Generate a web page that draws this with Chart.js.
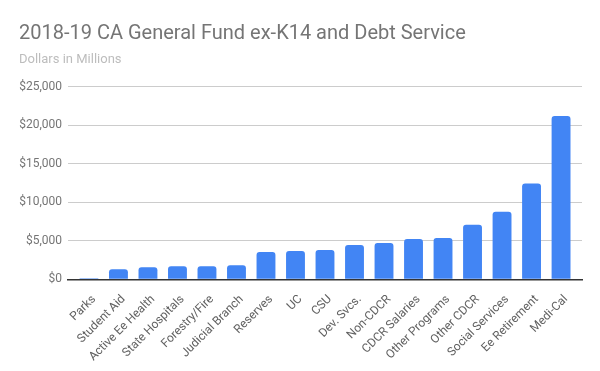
<!DOCTYPE html>
<html>
<head>
<meta charset="utf-8">
<script src="https://cdn.jsdelivr.net/npm/chart.js@4/dist/chart.umd.min.js"></script>
<style>
  html, body { margin: 0; padding: 0; background: #fff; }
  #wrap { width: 600px; height: 371px; }
</style>
</head>
<body>
<div id="wrap"><canvas id="chart"></canvas></div>
<script>
const categories = ["Parks", "Student Aid", "Active Ee Health", "State Hospitals", "Forestry/Fire",
  "Judicial Branch", "Reserves", "UC", "CSU", "Dev. Svcs.", "Non-CDCR", "CDCR Salaries",
  "Other Programs", "Other CDCR", "Social Services", "Ee Retirement", "Medi-Cal"];
const spending = [130, 1300, 1570, 1700, 1700, 1830, 3530, 3660, 3800, 4450, 4710, 5230,
  5370, 7070, 8770, 12430, 21200];
const yTicks = [0, 5000, 10000, 15000, 20000, 25000];

const fmt = (v) => "$" + v.toLocaleString("en-US");
// bars sit on a numeric axis so the side gaps can match the original
const positions = categories.map((c, i) => i);

new Chart(document.getElementById("chart"), {
  type: "bar",
  data: {
    labels: positions,
    datasets: [{
      data: spending,
      backgroundColor: "#4285f4",
      borderRadius: { topLeft: 3, topRight: 3 },
      borderSkipped: "bottom",
      barPercentage: 0.64,
      categoryPercentage: 1
    }]
  },
  options: {
    responsive: true,
    maintainAspectRatio: false,
    animation: false,
    layout: { padding: { left: 19, right: 18, top: 0, bottom: 2 } },
    plugins: {
      legend: { display: false },
      tooltip: { enabled: false },
      title: {
        display: true,
        text: "2018-19 CA General Fund ex-K14 and Debt Service",
        align: "start",
        color: "#757575",
        font: { family: "Roboto", size: 20, weight: "normal" },
        padding: { top: 22, bottom: 6 }
      },
      subtitle: {
        display: true,
        text: "Dollars in Millions",
        align: "start",
        color: "#bdbdbd",
        font: { family: "Roboto", size: 13 },
        padding: { bottom: 19 }
      }
    },
    scales: {
      y: {
        min: 0,
        max: 25000,
        afterBuildTicks: (axis) => { axis.ticks = yTicks.map((v) => ({ value: v })); },
        afterFit: (axis) => { axis.width = 49; },
        ticks: {
          callback: (v) => fmt(v),
          color: "#757575",
          font: { family: "Roboto", size: 12 },
          padding: 6
        },
        grid: { color: "#cccccc", drawTicks: false },
        border: { display: false }
      },
      x: {
        type: "linear",
        min: -0.71,
        max: 16.71,
        offset: false,
        afterBuildTicks: (axis) => { axis.ticks = positions.map((v) => ({ value: v })); },
        ticks: {
          callback: (v) => categories[v],
          minRotation: 45,
          maxRotation: 45,
          autoSkip: false,
          labelOffset: 5,
          color: "#616161",
          font: { family: "Roboto", size: 12 },
          padding: 5
        },
        grid: { display: false },
        border: { color: "#333333", width: 1.5 }
      }
    }
  }
});
</script>
</body>
</html>
